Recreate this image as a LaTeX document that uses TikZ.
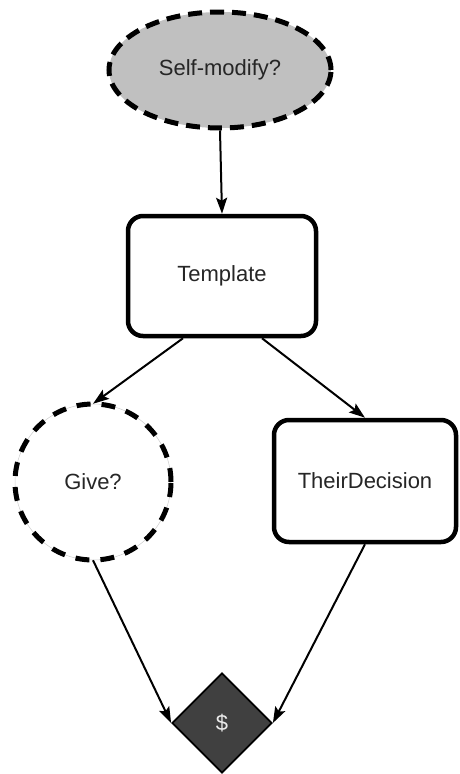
\documentclass[tikz,border=0pt]{standalone}
\usepackage{fontspec}
\setmainfont{Liberation Sans}
\usetikzlibrary{shapes.geometric,arrows.meta}
\definecolor{ellgray}{HTML}{C0C0C0}
\definecolor{dkgray}{HTML}{404040}
\definecolor{txtgray}{HTML}{262626}
\begin{document}
\begin{tikzpicture}[x=1pt,y=-1pt,
  every node/.style={font=\fontsize{22}{26}\selectfont, text=txtgray, inner sep=0pt},
  ellnode/.style={ellipse, fill=ellgray, draw=black, line width=5pt,
     dash pattern=on 14pt off 8pt, minimum width=222pt, minimum height=116pt},
  boxnode/.style={rectangle, rounded corners=15pt, draw=black, line width=4.5pt, fill=white},
  circnode/.style={circle, draw=black!20, line width=0.5pt, fill=white, minimum size=156pt,
     postaction={draw=black, line width=5pt, dash pattern=on 14pt off 11pt}},
  dianode/.style={diamond, aspect=1, fill=dkgray, draw=black, line width=1.8pt,
     minimum width=100pt, minimum height=100pt, text=white!92!black},
  conn/.style={draw=black, line width=2pt, -{Stealth[length=16pt,width=11pt,inset=3pt]}}
]
\useasboundingbox (0,0) rectangle (460,774);
\node[ellnode] (sm) at (220,70) {Self-modify?};
\node[boxnode, minimum width=188pt, minimum height=120pt] (tpl) at (222,276) {Template};
\node[circnode] (give) at (93,482) {Give?};
\node[boxnode, minimum width=182pt, minimum height=122pt] (td) at (365,481) {TheirDecision};
\node[dianode] (dlr) at (222,723) {\$};
\draw[conn] (sm.south) -- (tpl.north);
\draw[conn] ([xshift=-39pt]tpl.south) -- (give.north);
\draw[conn] ([xshift=40pt]tpl.south) -- (td.north);
\draw[conn] (give.south) -- (dlr.west);
\draw[conn] (td.south) -- (dlr.east);
\end{tikzpicture}
\end{document}
